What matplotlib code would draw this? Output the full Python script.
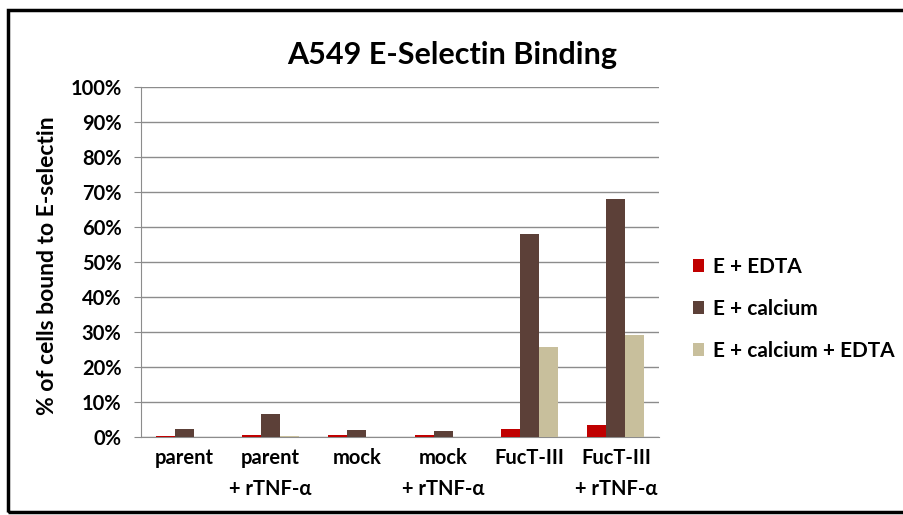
import numpy as np
import matplotlib.pyplot as plt
from matplotlib.patches import Rectangle
from matplotlib.transforms import ScaledTranslation

# binding data (% of cells)
groups = ['parent', 'parent\n+ rTNF-α', 'mock', 'mock\n+ rTNF-α', 'FucT-III', 'FucT-III\n+ rTNF-α']
e_edta = [0.3, 0.7, 0.7, 0.6, 2.2, 3.4]
e_calcium = [2.2, 6.5, 1.9, 1.6, 58.0, 68.0]
e_calcium_edta = [0.0, 0.3, 0.0, 0.0, 25.7, 29.0]

series = [('E + EDTA', e_edta, '#C00000'),
          ('E + calcium', e_calcium, '#5C4038'),
          ('E + calcium + EDTA', e_calcium_edta, '#C8BF9C')]

plt.rcParams['font.family'] = ['Lato', 'DejaVu Sans']
plt.rcParams['font.weight'] = 'bold'

fig = plt.figure(figsize=(9.04, 5.15), dpi=100)
ax = fig.add_axes([0.156, 0.1515, 0.573, 0.6795])

x = np.arange(len(groups))
width = 0.22
for i, (label, vals, color) in enumerate(series):
    ax.bar(x + (i - 1) * width, vals, width, color=color, label=label, zorder=3)

ax.set_xlim(-0.5, len(groups) - 0.5)
ax.set_ylim(0, 100)
ax.set_yticks(range(0, 101, 10))
ax.set_yticklabels([f'{v}%' for v in range(0, 101, 10)], fontsize=14.5, fontweight='bold')
ax.set_xticks(x)
ax.set_xticklabels(groups, fontsize=14.5, fontweight='bold', linespacing=1.7, va='top')

# two-line category labels sit a little left of their bars
shift = ScaledTranslation(-10 / 100, 0, fig.dpi_scale_trans)
for lbl in ax.get_xticklabels():
    if '\n' in lbl.get_text():
        lbl.set_transform(lbl.get_transform() + shift)

ax.grid(axis='y', color='#8C8C8C', lw=1, zorder=0)
for side in ['top', 'right']:
    ax.spines[side].set_visible(False)
for side in ['left', 'bottom']:
    ax.spines[side].set_color('#8C8C8C')
ax.tick_params(axis='y', length=5, color='#8C8C8C', pad=9)
ax.tick_params(axis='x', length=0, pad=8)

fig.text(48 / 904, 1 - 266 / 515, '% of cells bound to E-selectin', fontsize=16.5,
         fontweight='bold', rotation=90, ha='center', va='center')
fig.text(0.5, 0.893, 'A549 E-Selectin Binding', fontsize=22, fontweight='bold',
         ha='center', va='center')

ax.legend(loc='center left', bbox_to_anchor=(0.757, 0.4), bbox_transform=fig.transFigure,
          frameon=False, fontsize=15, handlelength=0.55, handleheight=0.55,
          handletextpad=0.45, labelspacing=1.05, borderaxespad=0)

# outer frame
fig.patches.append(Rectangle((0.009, 0.006), 1.2, 0.975, transform=fig.transFigure,
                             fill=False, edgecolor='black', lw=2.5))

fig.savefig('out.png', dpi=100)
